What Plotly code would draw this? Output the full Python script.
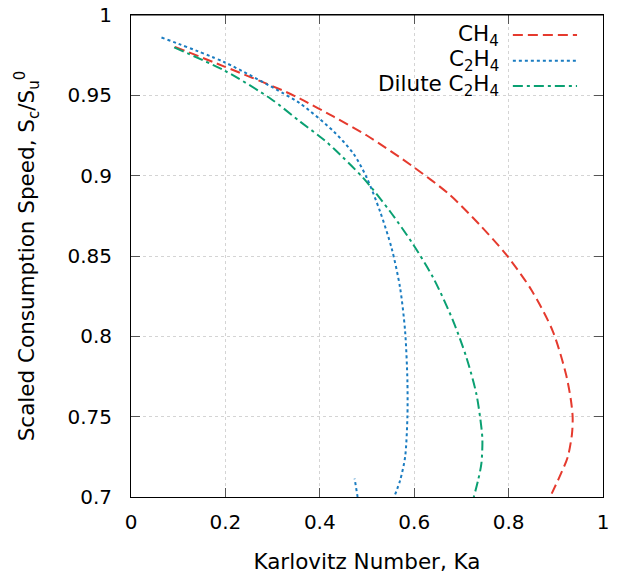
import plotly.graph_objects as go

# CH4
ch4_ka = [0.093, 0.198, 0.324, 0.359, 0.4295, 0.4998, 0.5977, 0.6756, 0.7388, 0.7950, 0.848, 0.8935, 0.9216, 0.9322, 0.9357, 0.9343, 0.9252, 0.9076, 0.8879]
ch4_sc = [0.9802, 0.9679, 0.9527, 0.9478, 0.9367, 0.925, 0.9056, 0.888, 0.8694, 0.8508, 0.829, 0.8033, 0.7764, 0.7599, 0.7496, 0.7393, 0.7248, 0.7124, 0.700]

# C2H4 (two visible branches)
c2h4_ka = [0.0646, 0.198, 0.324, 0.359, 0.4295, 0.4717, 0.4998, 0.5279, 0.5525, 0.5701, 0.5807, 0.5856, 0.5856, 0.5807, 0.5701, 0.5575, None, 0.4801, 0.4738]
c2h4_sc = [0.986, 0.9706, 0.951, 0.9448, 0.9275, 0.9135, 0.8985, 0.8775, 0.8545, 0.8302, 0.8033, 0.7723, 0.7496, 0.7248, 0.7103, 0.700, None, 0.700, 0.7114]

# Dilute C2H4
dil_ka = [0.0914, 0.198, 0.296, 0.359, 0.408, 0.4295, 0.4928, 0.5490, 0.5982, 0.6404, 0.6826, 0.7107, 0.7318, 0.7423, 0.7445, 0.7423, 0.7353, 0.7262]
dil_sc = [0.9798, 0.9654, 0.9479, 0.9335, 0.9225, 0.9169, 0.8983, 0.8777, 0.857, 0.8364, 0.8095, 0.7868, 0.7640, 0.7434, 0.7351, 0.7207, 0.7103, 0.700]

series_names = ["CH<sub>4</sub>", "C<sub>2</sub>H<sub>4</sub>", "Dilute C<sub>2</sub>H<sub>4</sub>"]
colors = ["#e53a2e", "#1a7cc1", "#0aa072"]
dashes = ["10px,5px", "3px,3px", "10px,4px,3px,4px"]

x_ticks = [0, 0.2, 0.4, 0.6, 0.8, 1]
x_ticktext = ["0", "0.2", "0.4", "0.6", "0.8", "1"]
y_ticks = [0.7, 0.75, 0.8, 0.85, 0.9, 0.95, 1]
y_ticktext = ["0.7", "0.75", "0.8", "0.85", "0.9", "0.95", "1"]

FONT = "DejaVu Sans"

fig = go.Figure()
data = [(ch4_ka, ch4_sc), (c2h4_ka, c2h4_sc), (dil_ka, dil_sc)]
for (xs, ys), name, c, d in zip(data, series_names, colors, dashes):
    fig.add_trace(go.Scatter(x=xs, y=ys, mode="lines", name=name,
                             line=dict(color=c, width=2, dash=d, shape="spline", smoothing=0.8),
                             connectgaps=False, showlegend=False))

# gnuplot-style legend: right-aligned text with sample on the right
leg_y = [0.9585, 0.905, 0.8527]
for name, c, d, yy in zip(series_names, colors, dashes, leg_y):
    fig.add_annotation(x=0.784, y=yy, xref="paper", yref="paper", text=name,
                       showarrow=False, xanchor="right", yanchor="middle",
                       font=dict(family=FONT, size=21.5, color="black"))
    fig.add_shape(type="line", xref="paper", yref="paper",
                  x0=0.809, x1=0.945, y0=yy, y1=yy,
                  line=dict(color=c, width=2, dash=d))

# plot frame top edge
fig.add_shape(type="line", xref="paper", yref="paper", x0=0, x1=1, y0=1, y1=1,
              line=dict(color="black", width=1), layer="above")

axis_common = dict(
    showline=True, linecolor="black", linewidth=1, mirror="ticks",
    ticks="inside", ticklen=9, tickcolor="#555555", tickwidth=1,
    showgrid=True, gridcolor="#d4d4d4", griddash="dot", gridwidth=1,
    zeroline=False, automargin=False, ticklabeloverflow="allow",
    tickfont=dict(family=FONT, size=20, color="black"),
)

fig.update_xaxes(range=[0, 1], tickvals=x_ticks, ticktext=x_ticktext,
                 title=dict(text="Karlovitz Number, Ka", font=dict(family=FONT, size=21.5, color="black"), standoff=20),
                 ticklabelstandoff=7, **axis_common)
fig.update_yaxes(range=[0.7, 1], tickvals=y_ticks, ticktext=y_ticktext,
                 title=dict(text="Scaled Consumption Speed, S<sub>c</sub>/S<sub>u</sub><sup>0</sup>",
                            font=dict(family=FONT, size=21.5, color="black"), standoff=26),
                 ticklabelstandoff=14, **axis_common)

fig.update_layout(width=624, height=579, margin=dict(l=131, r=21, t=15, b=82),
                  plot_bgcolor="white", paper_bgcolor="white",
                  font=dict(family=FONT, size=20, color="black"))

# remove the default page margin so the figure fills the window exactly
fig.write_html("out.html", config={"displayModeBar": False},
               post_script="document.body.style.margin='0';document.body.style.overflow='hidden';")
